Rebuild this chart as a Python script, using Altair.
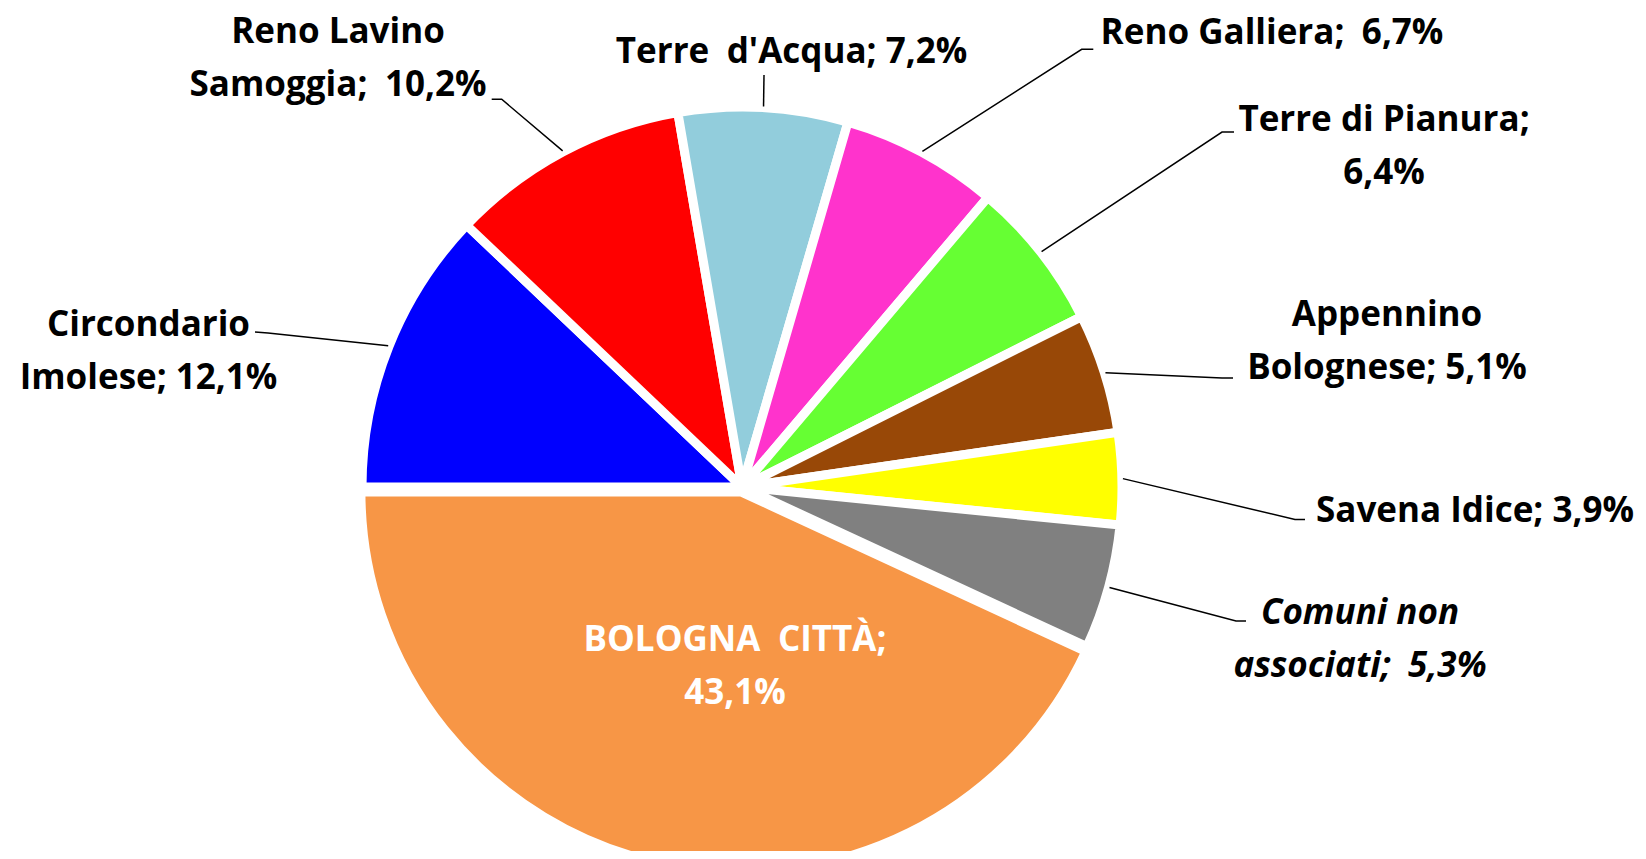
import math
import altair as alt
import pandas as pd

# ---------------- data ----------------
categories = ["Circondario Imolese", "Reno Lavino Samoggia", "Terre d'Acqua",
              "Reno Galliera", "Terre di Pianura", "Appennino Bolognese",
              "Savena Idice", "Comuni non associati", "BOLOGNA CITTÀ"]
values = [12.1, 10.2, 7.2, 6.7, 6.4, 5.1, 3.9, 5.3, 43.1]
colors = ["#0000FF", "#FF0000", "#92CDDC", "#FF33CC", "#66FF33",
          "#984807", "#FFFF00", "#808080", "#F79646"]
SP = "\u2002"  # the wider gaps seen in the original labels
label_templates = ["Circondario\nImolese; {v}", "Reno Lavino\nSamoggia;" + SP + "{v}",
                   "Terre" + SP + "d'Acqua; {v}", "Reno Galliera;" + SP + "{v}",
                   "Terre di Pianura;\n{v}", "Appennino\nBolognese; {v}",
                   "Savena Idice; {v}", "Comuni non\nassociati;" + SP + "{v}",
                   "BOLOGNA" + SP + "CITTÀ;\n{v}"]

# ---------------- layout ----------------
W, H = 1630, 843
CX, CY = 734, 479          # pie centre (pixels)
R = 380                    # pie radius
LEAD_R = 381               # where leader lines touch the pie
EXPLODE_CAT = "BOLOGNA CITTÀ"
EXPLODE = 5
FONT = "Open Sans"
FS = 35
LH = 53
# (x centre, y centre of the first text line)
label_pos = [(140.5, 316.5), (330, 23.5), (783.5, 44), (1264, 25), (1376, 111.5),
             (1379, 307), (1467, 502.5), (1352, 604.5), (727, 631.5)]
label_elbows = [[(247, 324), (260, 325)], [(483.7, 91.3), (493.7, 91.3)],
                [(756, 67)], [(1085.3, 41.3), (1073.7, 41.3)],
                [(1226, 124), (1214, 124)], [(1225, 370), (1214, 370)],
                [(1297, 511.5), (1287, 511.5)], [(1238, 613), (1228, 613)], []]
label_style = ["normal"] * 7 + ["italic", "white"]


def fmt(v):
    return f"{v:.1f}%".replace(".", ",")


slices = pd.DataFrame({"cat": categories, "value": values,
                       "order": list(range(len(values)))})

labels = pd.DataFrame({
    "cat": categories,
    "text": [t.format(v=fmt(v)) for t, v in zip(label_templates, values)],
    "x": [p[0] for p in label_pos],
    "y": [p[1] for p in label_pos],
    "style": label_style,
})

rows = []
cum = 0.0
for i, v in enumerate(values):
    mid = cum + v / 2
    cum += v
    if not label_elbows[i]:
        continue
    th = 1.5 * math.pi + 2 * math.pi * mid / 100
    pts = list(label_elbows[i]) + [(CX + LEAD_R * math.sin(th), CY - LEAD_R * math.cos(th))]
    for s, (px, py) in enumerate(pts):
        rows.append({"cat": categories[i], "seq": s, "x": px, "y": py})
leaders = pd.DataFrame(rows)

xs = alt.Scale(domain=[0, W], nice=False, zero=False)
ys = alt.Scale(domain=[0, H], nice=False, zero=False, reverse=True)
theta_scale = alt.Scale(domain=[0, 100], range=[1.5 * math.pi, 3.5 * math.pi])

arcs = (
    alt.Chart(slices)
    .transform_window(cum="sum(value)", sort=[alt.SortField("order")])
    .transform_calculate(
        start="datum.cum - datum.value",
        ang="1.5*PI + 2*PI*(datum.cum - datum.value/2)/100",
        ex=f"datum.cat == '{EXPLODE_CAT}' ? {EXPLODE} : 0",
    )
    .transform_calculate(
        acx=f"{CX} + datum.ex*sin(datum.ang)",
        acy=f"{CY} - datum.ex*cos(datum.ang)",
    )
    .mark_arc(radius=R, stroke="white", strokeWidth=9)
    .encode(
        theta=alt.Theta("start:Q", scale=theta_scale, stack=None),
        theta2="cum:Q",
        x=alt.X("acx:Q", scale=xs, axis=None),
        y=alt.Y("acy:Q", scale=ys, axis=None),
        color=alt.Color("cat:N", scale=alt.Scale(domain=categories, range=colors), legend=None),
        order=alt.Order("order:Q"),
    )
)

lines = (
    alt.Chart(leaders)
    .mark_line(color="black", strokeWidth=1.5)
    .encode(
        x=alt.X("x:Q", scale=xs, axis=None),
        y=alt.Y("y:Q", scale=ys, axis=None),
        detail="cat:N",
        order="seq:Q",
    )
)


def text_layer(style, color, font_style):
    return (
        alt.Chart(labels)
        .transform_filter(alt.datum.style == style)
        .mark_text(font=FONT, fontSize=FS, fontWeight="bold", fontStyle=font_style,
                   color=color, align="center", baseline="middle",
                   lineBreak="\n", lineHeight=LH)
        .encode(
            x=alt.X("x:Q", scale=xs, axis=None),
            y=alt.Y("y:Q", scale=ys, axis=None),
            text="text:N",
        )
    )


chart = (
    alt.layer(arcs, lines,
              text_layer("normal", "black", "normal"),
              text_layer("italic", "black", "italic"),
              text_layer("white", "white", "normal"))
    .properties(width=W, height=H, autosize="none", padding=0)
    .configure_view(strokeWidth=0)
)

chart.save("out.html", embed_options={"renderer": "svg", "actions": False})
